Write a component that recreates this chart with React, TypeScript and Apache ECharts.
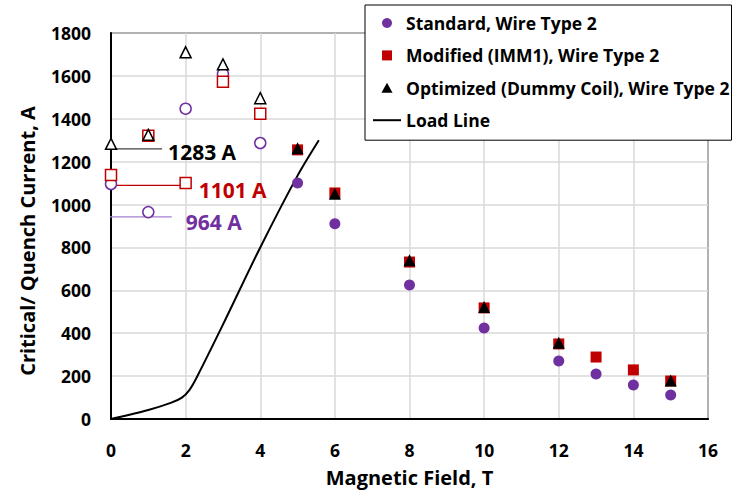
import React, { useEffect, useRef } from "react";
import * as echarts from "echarts";

const FIELD_FILLED = [5, 6, 8, 10, 12, 13, 14, 15];
const STANDARD = [1101, 910, 625, 424, 270, 210, 159, 112];
const MODIFIED = [1255, 1054, 732, 518, 350, 289, 229, 177];
const FIELD_OPT = [5, 6, 8, 10, 12, 15];
const OPTIMIZED = [1262, 1050, 740, 522, 356, 180];

const FIELD_OPEN = [0, 1, 2, 3, 4];
const STANDARD_OPEN = [1096, 965, 1447, 1609, 1287];
const MODIFIED_OPEN = [1138, 1321, 1100, 1573, 1423];
const OPTIMIZED_OPEN = [1283, 1325, 1710, 1654, 1496];

const LOAD_FIELD = [0, 1, 1.6, 1.9, 2.1, 2.3, 3, 4, 5, 5.57];
const LOAD_CURRENT = [0, 42, 75, 100, 135, 195, 440, 800, 1135, 1300];

const ANNOT_LABELS = ["1283 A", "1101 A", "964 A"];
const ANNOT_Y = [1260, 1089, 943];
const ANNOT_X0 = [0, -0.3, -0.19];
const ANNOT_X1 = [1.37, 2.0, 1.63];
const ANNOT_COLORS = ["#000000", "#c00000", "#7030a0"];
const ANNOT_LINE_COLORS = ["#404040", "#c00000", "#a57fd0"];
const ANNOT_OFFSET = [[-2, 3], [5, 5], [6, 5]];

const SERIES_NAMES = [
  "Standard, Wire Type 2",
  "Modified (IMM1), Wire Type 2",
  "Optimized (Dummy Coil), Wire Type 2",
  "Load Line",
];

const PURPLE = "#7030a0";
const RED = "#c00000";
const FONT = "Open Sans";

const zip = (xs: number[], ys: number[]) => xs.map((x, i) => [x, ys[i]]);

export default function App() {
  const ref = useRef<HTMLDivElement>(null);
  useEffect(() => {
    const chart = echarts.init(ref.current!, null, { renderer: "svg" });
    const hollow = (name: string, data: number[][], symbol: string, color: string, size: number) => ({
      name,
      type: "scatter",
      data,
      symbol,
      symbolSize: size,
      clip: false,
      itemStyle: { color: "#ffffff", borderColor: color, borderWidth: 1.5, opacity: 1 },
      z: 3,
    });
    const annots = ANNOT_LABELS.map((lbl, i) => ({
      name: "annot" + i,
      type: "line",
      data: [
        [ANNOT_X0[i], ANNOT_Y[i]],
        [ANNOT_X1[i], ANNOT_Y[i]],
      ],
      symbol: "none",
      clip: false,
      lineStyle: { color: ANNOT_LINE_COLORS[i], width: 1.2 },
      endLabel: {
        show: true,
        formatter: lbl,
        color: ANNOT_COLORS[i],
        fontFamily: FONT,
        fontWeight: "bold",
        fontSize: 21,
        offset: ANNOT_OFFSET[i],
      },
      z: 2,
    }));
    chart.setOption({
      animation: false,
      backgroundColor: "#ffffff",
      textStyle: { fontFamily: FONT },
      grid: {
        left: 111,
        right: 34,
        top: 33,
        bottom: 73,
        outerBoundsMode: "none",
        containLabel: false,
        show: true,
        borderColor: "#000000",
        borderWidth: 1.5,
      },
      legend: {
        data: [
          { name: SERIES_NAMES[0], icon: "circle" },
          { name: SERIES_NAMES[1], icon: "path://M0,0L10,0L10,10L0,10Z" },
          { name: SERIES_NAMES[2], icon: "path://M5,0L10,9L0,9Z" },
          { name: SERIES_NAMES[3], icon: "path://M0,0L28,0L28,2L0,2Z" },
        ],
        orient: "vertical",
        left: 365,
        top: 5,
        padding: [8, 2, 10, 8],
        itemGap: 12.4,
        itemWidth: 28,
        itemHeight: 10,
        symbolKeepAspect: true,
        backgroundColor: "#ffffff",
        borderColor: "#000000",
        borderWidth: 1,
        textStyle: {
          fontFamily: FONT,
          fontWeight: "bold",
          fontSize: 17.5,
          lineHeight: 20,
          color: "#000000",
        },
      },
      xAxis: {
        type: "value",
        min: 0,
        max: 16,
        interval: 2,
        name: "Magnetic Field, T",
        nameLocation: "middle",
        nameGap: 48,
        nameTextStyle: { fontFamily: FONT, fontWeight: "bold", fontSize: 20, color: "#000000" },
        axisLine: { show: true, lineStyle: { color: "#000000", width: 2 } },
        axisTick: { show: false },
        axisLabel: {
          margin: 22,
          fontFamily: FONT,
          fontWeight: "bold",
          fontSize: 17.5,
          color: "#000000",
          formatter: (v: number) => String(v),
        },
        splitLine: { show: true, lineStyle: { color: "#d9d9d9", width: 1.5 } },
      },
      yAxis: {
        type: "value",
        min: 0,
        max: 1800,
        interval: 200,
        name: "Critical/ Quench Current, A",
        nameLocation: "middle",
        nameGap: 74,
        nameTextStyle: {
          fontFamily: FONT,
          fontWeight: "bold",
          fontSize: 20,
          color: "#000000",
          padding: [0, 30, 0, 0],
        },
        axisLine: { show: true, lineStyle: { color: "#000000", width: 2 } },
        axisTick: { show: false },
        axisLabel: {
          margin: 20,
          fontFamily: FONT,
          fontWeight: "bold",
          fontSize: 17.5,
          color: "#000000",
          formatter: (v: number) => String(v),
        },
        splitLine: { show: true, lineStyle: { color: "#d9d9d9", width: 1.5 } },
      },
      series: [
        ...annots,
        hollow("Standard open", zip(FIELD_OPEN, STANDARD_OPEN), "circle", PURPLE, 11),
        hollow("Modified open", zip(FIELD_OPEN, MODIFIED_OPEN), "rect", RED, 11),
        hollow("Optimized open", zip(FIELD_OPEN, OPTIMIZED_OPEN), "triangle", "#000000", 11),
        {
          name: SERIES_NAMES[3],
          type: "line",
          data: zip(LOAD_FIELD, LOAD_CURRENT),
          symbol: "none",
          smooth: 0.3,
          lineStyle: { color: "#000000", width: 2 },
          itemStyle: { color: "#000000" },
          z: 4,
        },
        {
          name: SERIES_NAMES[0],
          type: "scatter",
          data: zip(FIELD_FILLED, STANDARD),
          symbol: "circle",
          symbolSize: 11,
          itemStyle: { color: PURPLE, opacity: 1 },
          z: 5,
        },
        {
          name: SERIES_NAMES[1],
          type: "scatter",
          data: zip(FIELD_FILLED, MODIFIED),
          symbol: "rect",
          symbolSize: 11,
          itemStyle: { color: RED, opacity: 1 },
          z: 6,
        },
        {
          name: SERIES_NAMES[2],
          type: "scatter",
          data: zip(FIELD_OPT, OPTIMIZED),
          symbol: "triangle",
          symbolSize: 12,
          itemStyle: { color: "#000000", opacity: 1 },
          z: 7,
        },
      ],
    });
    return () => chart.dispose();
  }, []);
  return (
    <div
      ref={ref}
      style={{ position: "fixed", left: 0, top: 0, width: 742, height: 492 }}
    />
  );
}
